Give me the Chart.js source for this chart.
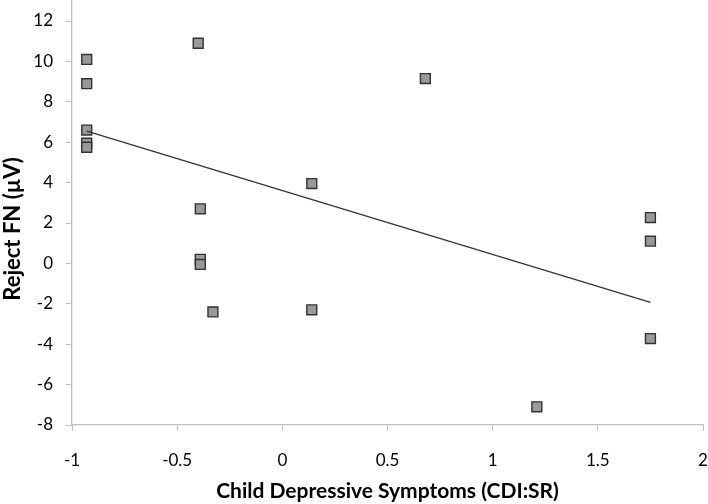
<!DOCTYPE html>
<html>
<head>
<meta charset="utf-8">
<script src="https://cdn.jsdelivr.net/npm/chart.js@4/dist/chart.umd.min.js"></script>
<style>
  html, body { margin: 0; padding: 0; background: #fff; }
  #wrap { width: 708px; height: 504px; }
</style>
</head>
<body>
<div id="wrap"><canvas id="scatter"></canvas></div>
<script>
// child depressive symptoms (x) vs reject FN amplitude (y)
const cdiScores = [-0.93, -0.93, -0.93, -0.93, -0.93, -0.40, -0.39, -0.39, -0.39, -0.33, 0.14, 0.14, 0.68, 1.21, 1.75, 1.75, 1.75];
const rejectFN  = [10.1, 8.9, 6.6, 5.95, 5.75, 10.9, 2.7, 0.2, -0.05, -2.4, 3.95, -2.3, 9.15, -7.1, 2.27, 1.1, -3.72];
// fitted regression line end points
const trendX = [-0.93, 1.75];
const trendY = [6.55, -1.93];
const xTicks = [-1, -0.5, 0, 0.5, 1, 1.5, 2];
const yTicks = [-8, -6, -4, -2, 0, 2, 4, 6, 8, 10, 12];
const yTop = 13.04; // plot area runs a little above the last tick

const points = cdiScores.map((x, i) => ({ x, y: rejectFN[i] }));
const trend = trendX.map((x, i) => ({ x, y: trendY[i] }));

const axisGrey = "#c0c0c0";
const fam = "Lato, 'Open Sans', sans-serif";
const tickFont = { family: fam, size: 17 };

// fixed axis boxes so the plot area lands where the original has it
function noPad(axis) {
  axis.paddingTop = 0;
  axis.paddingBottom = 0;
  axis.paddingLeft = 0;
  axis.paddingRight = 0;
}

new Chart(document.getElementById("scatter"), {
  type: "scatter",
  data: {
    datasets: [
      {
        type: "line",
        label: "trend",
        data: trend,
        borderColor: "#333",
        borderWidth: 1.3,
        pointRadius: 0,
        fill: false
      },
      {
        label: "Reject FN",
        data: points,
        pointStyle: "rect",
        pointRadius: 7,
        backgroundColor: "#999",
        borderColor: "#333",
        borderWidth: 1.4
      }
    ]
  },
  options: {
    responsive: true,
    maintainAspectRatio: false,
    animation: false,
    layout: { autoPadding: false, padding: { top: 0, right: 5, left: 0, bottom: 0 } },
    plugins: { legend: { display: false }, tooltip: { enabled: false } },
    scales: {
      x: {
        type: "linear",
        min: -1,
        max: 2,
        afterBuildTicks: axis => { axis.ticks = xTicks.map(v => ({ value: v })); },
        afterFit: axis => { axis.height = 79; noPad(axis); },
        ticks: { color: "#000", font: tickFont, padding: 19, maxRotation: 0, callback: v => String(v) },
        grid: { drawOnChartArea: false, drawTicks: true, tickLength: 6, color: axisGrey },
        border: { color: axisGrey, width: 1.3 },
        title: {
          display: true,
          text: "Child Depressive Symptoms (CDI:SR)",
          color: "#000",
          font: { family: fam, size: 21, weight: "bold" },
          padding: { top: 0, bottom: 0 }
        }
      },
      y: {
        type: "linear",
        min: -8,
        max: yTop,
        afterBuildTicks: axis => { axis.ticks = yTicks.map(v => ({ value: v })); },
        afterFit: axis => { axis.width = 72; noPad(axis); },
        ticks: { color: "#000", font: tickFont, padding: 13 },
        grid: { drawOnChartArea: false, drawTicks: true, tickLength: 6, color: axisGrey },
        border: { color: axisGrey, width: 1.3 },
        title: {
          display: true,
          // trailing em spaces nudge the rotated title down a little, like the original
          text: "Reject FN (µV)\u2003\u2003",
          color: "#000",
          font: { family: fam, size: 22, weight: "bold" },
          padding: { top: 0, bottom: 0 }
        }
      }
    }
  }
});
</script>
</body>
</html>
